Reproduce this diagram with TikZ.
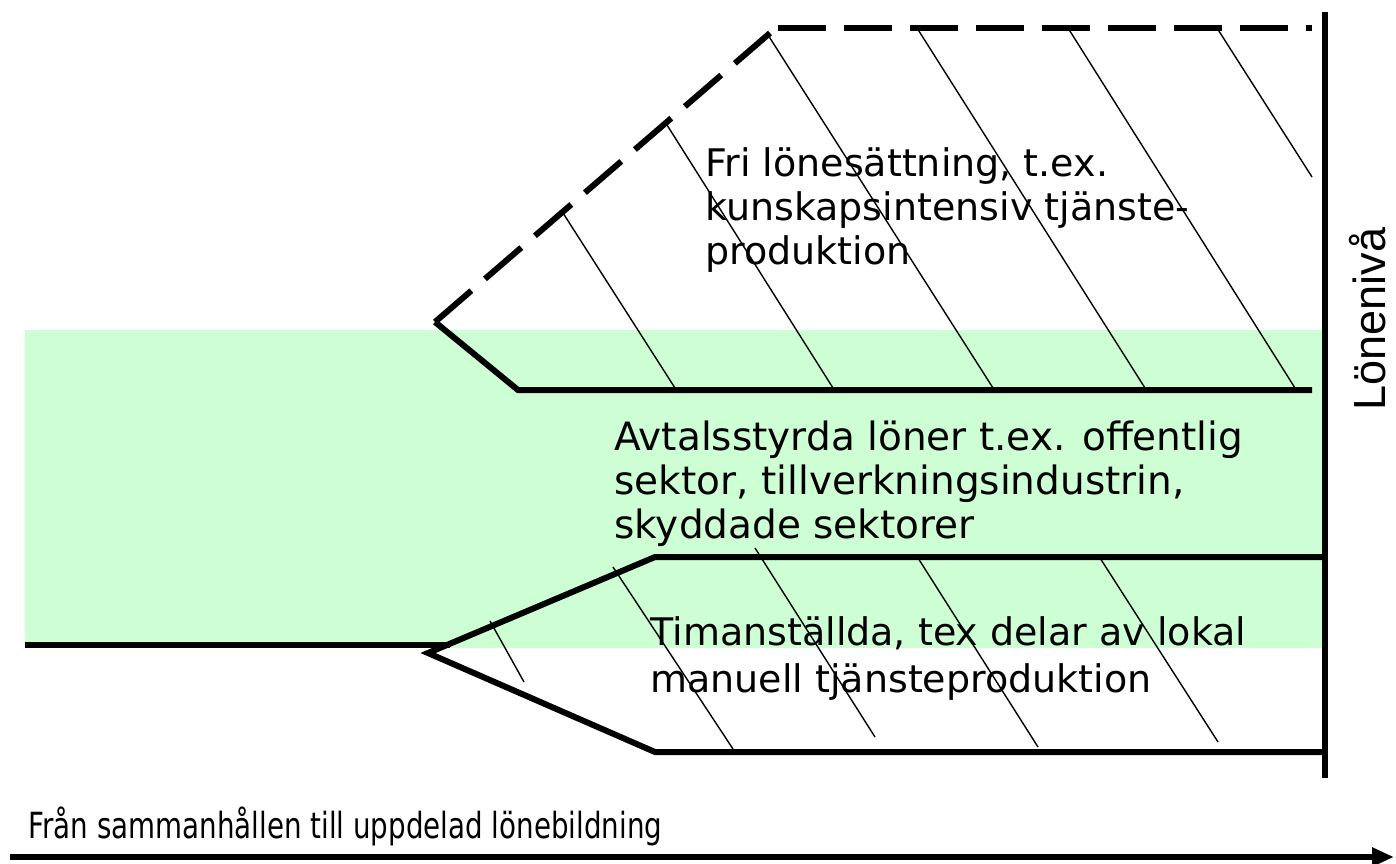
\documentclass[tikz,border=0pt]{standalone}
\usepackage{fontspec}
\setmainfont{DejaVu Sans}
\newfontfamily\lonfont{Liberation Sans}
\newfontfamily\condfont[FakeStretch=0.77]{DejaVu Sans}
\usetikzlibrary{arrows.meta}
\definecolor{bandgreen}{RGB}{206,255,212}

\begin{document}
\begin{tikzpicture}[x=0.5pt,y=-0.5pt,line join=miter]
  \tikzstyle{thickline}=[line width=3pt]
  \tikzstyle{dashline}=[line width=3pt,dash pattern=on 24pt off 9pt]
  \tikzstyle{hatch}=[line width=0.7pt]
  \tikzstyle{txt}=[anchor=base west,inner sep=0pt,align=left,font=\fontsize{19}{22}\selectfont]

  \useasboundingbox (0,0) rectangle (1396,863);
  \fill[bandgreen] (25,330) rectangle (1325,648);

  % hatching
  \draw[hatch] (563,213) -- (675,388)
               (667,125) -- (833,388)
               (768,35) -- (993,388)
               (917,28) -- (1145,388)
               (1068,28) -- (1295,388)
               (1217,28) -- (1312,177);
  \draw[hatch] (490,621) -- (524,682)
               (613,567) -- (733,749)
               (755,548) -- (875,737)
               (918,558) -- (1038,747)
               (1100,558) -- (1218,742);

  % borders
  \draw[dashline] (435,322) -- (770,33);
  \draw[dashline] (778,28) -- (1312,28);
  \draw[thickline] (435,322) -- (518,390) -- (1312,390);
  \draw[thickline] (25,645) -- (450,645);
  \draw[thickline] (1325,557) -- (655,557) -- (428,653) -- (655,752) -- (1325,752);
  \draw[thickline] (1325,12) -- (1325,778);
  \draw[thickline,-{Triangle[length=11pt,width=9pt]}] (10,857) -- (1394,857);

  % texts (base = last line)
  \node[txt] (fri) at (705,264) {Fri lönesättning, t.ex.\\kunskapsintensiv tjänste-\\produktion};
  \node[txt,font=\fontsize{19.5}{22}\selectfont] (avtal) at (614,538) {Avtalsstyrda löner t.ex. offentlig\\sektor, tillverkningsindustrin,\\skyddade sektorer};
  \node[txt,font=\fontsize{19}{23.5}\selectfont] (tim) at (650,692) {Timanställda, tex delar av lokal\\manuell tjänsteproduktion};
  \node[txt,font=\condfont\fontsize{18}{22}\selectfont] (fran) at (28,838) {Från sammanhållen till uppdelad lönebildning};
  \node[rotate=90,inner sep=0pt,font=\lonfont\fontsize{22.5}{26}\selectfont] (lon) at (1368,319) {Lönenivå};
\end{tikzpicture}
\end{document}
